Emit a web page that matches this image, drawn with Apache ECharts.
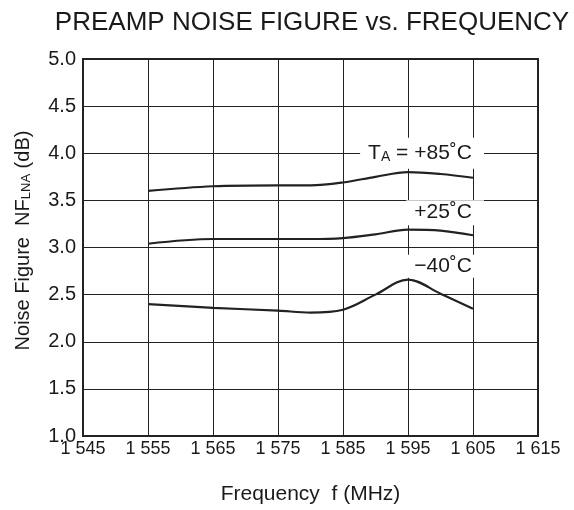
<!DOCTYPE html>
<html>
<head>
<meta charset="utf-8">
<script src="https://cdn.jsdelivr.net/npm/echarts@6/dist/echarts.min.js"></script>
<style>
  html, body { margin: 0; padding: 0; background: #fff; }
  #main { width: 574px; height: 510px; }
</style>
</head>
<body>
<div id="main"></div>
<script>
const freqs = [1555, 1565, 1575, 1580, 1585, 1590, 1595, 1600, 1605];
const nf85 = [3.60, 3.65, 3.66, 3.66, 3.69, 3.75, 3.80, 3.78, 3.74];
const nf25 = [3.04, 3.09, 3.09, 3.09, 3.10, 3.14, 3.19, 3.18, 3.13];
const nfM40 = [2.40, 2.36, 2.33, 2.31, 2.34, 2.50, 2.66, 2.51, 2.35];
const labels = [
  { text: '{t|T}{s|A}{t| = +85˚C}', at: [1605, 4.0], pad: [5, 12, 5, 8] },
  { text: '{t|+25˚C}', at: [1605, 3.37], pad: [2, 12, 2, 8] },
  { text: '{t|−40˚C}', at: [1605, 2.80], pad: [1, 12, 1, 8] },
];

const FONT = 'Liberation Sans, Arial, sans-serif';
const INK = '#1a1a1a';

const myChart = echarts.init(document.getElementById('main'));

function pairs(ys) {
  return freqs.map((f, i) => [f, ys[i]]);
}

function curve(name, ys, lab) {
  return {
    name,
    type: 'line',
    data: pairs(ys),
    smooth: 0.35,
    symbol: 'none',
    lineStyle: { color: '#222', width: 2.2 },
    markPoint: {
      symbol: 'circle',
      symbolSize: 0,
      silent: true,
      data: [{
        coord: lab.at,
        label: {
          show: true,
          position: 'inside',
          align: 'right',
          verticalAlign: 'middle',
          offset: [11, 0],
          backgroundColor: '#fff',
          padding: lab.pad,
          formatter: lab.text,
          rich: {
            t: { fontFamily: FONT, fontSize: 21, color: INK },
            s: { fontFamily: FONT, fontSize: 14, color: INK, verticalAlign: 'bottom', padding: [7, 0, 0, 0] },
          },
        },
      }],
    },
  };
}

const option = {
  animation: false,
  title: {
    text: 'PREAMP NOISE FIGURE vs. FREQUENCY',
    left: 307,
    textAlign: 'center',
    top: 5,
    textStyle: { fontFamily: FONT, fontSize: 26, fontWeight: 'normal', color: INK },
  },
  grid: {
    left: 83, right: 36, top: 59, bottom: 74,
    show: true, borderColor: '#222', borderWidth: 2,
  },
  xAxis: {
    type: 'value',
    min: 1545, max: 1615, interval: 10,
    name: 'Frequency  f (MHz)',
    nameLocation: 'middle',
    nameGap: 48,
    nameTextStyle: { fontFamily: FONT, fontSize: 21, color: INK },
    axisLine: { show: false },
    axisTick: { show: false },
    splitLine: { show: true, lineStyle: { color: '#222', width: 1 } },
    axisLabel: {
      fontFamily: FONT, fontSize: 18, color: INK, margin: 4,
      formatter: (v) => String(v).slice(0, 1) + ' ' + String(v).slice(1),
    },
  },
  yAxis: {
    type: 'value',
    min: 1, max: 5, interval: 0.5,
    name: 'Noise Figure  NF{s|LNA} (dB)',
    nameLocation: 'middle',
    nameGap: 50,
    nameTextStyle: {
      fontFamily: FONT, fontSize: 20, color: INK,
      padding: [0, 0, 0, 14],
      rich: { s: { fontFamily: FONT, fontSize: 13, color: INK, verticalAlign: 'bottom', padding: [7, 0, 0, 0] } },
    },
    axisLine: { show: false },
    axisTick: { show: false },
    splitLine: { show: true, lineStyle: { color: '#222', width: 1 } },
    axisLabel: {
      fontFamily: FONT, fontSize: 20, color: INK, margin: 7,
      formatter: (v) => v.toFixed(1),
    },
  },
  series: [
    curve('+85', nf85, labels[0]),
    curve('+25', nf25, labels[1]),
    curve('-40', nfM40, labels[2]),
  ],
};

myChart.setOption(option);
</script>
</body>
</html>
